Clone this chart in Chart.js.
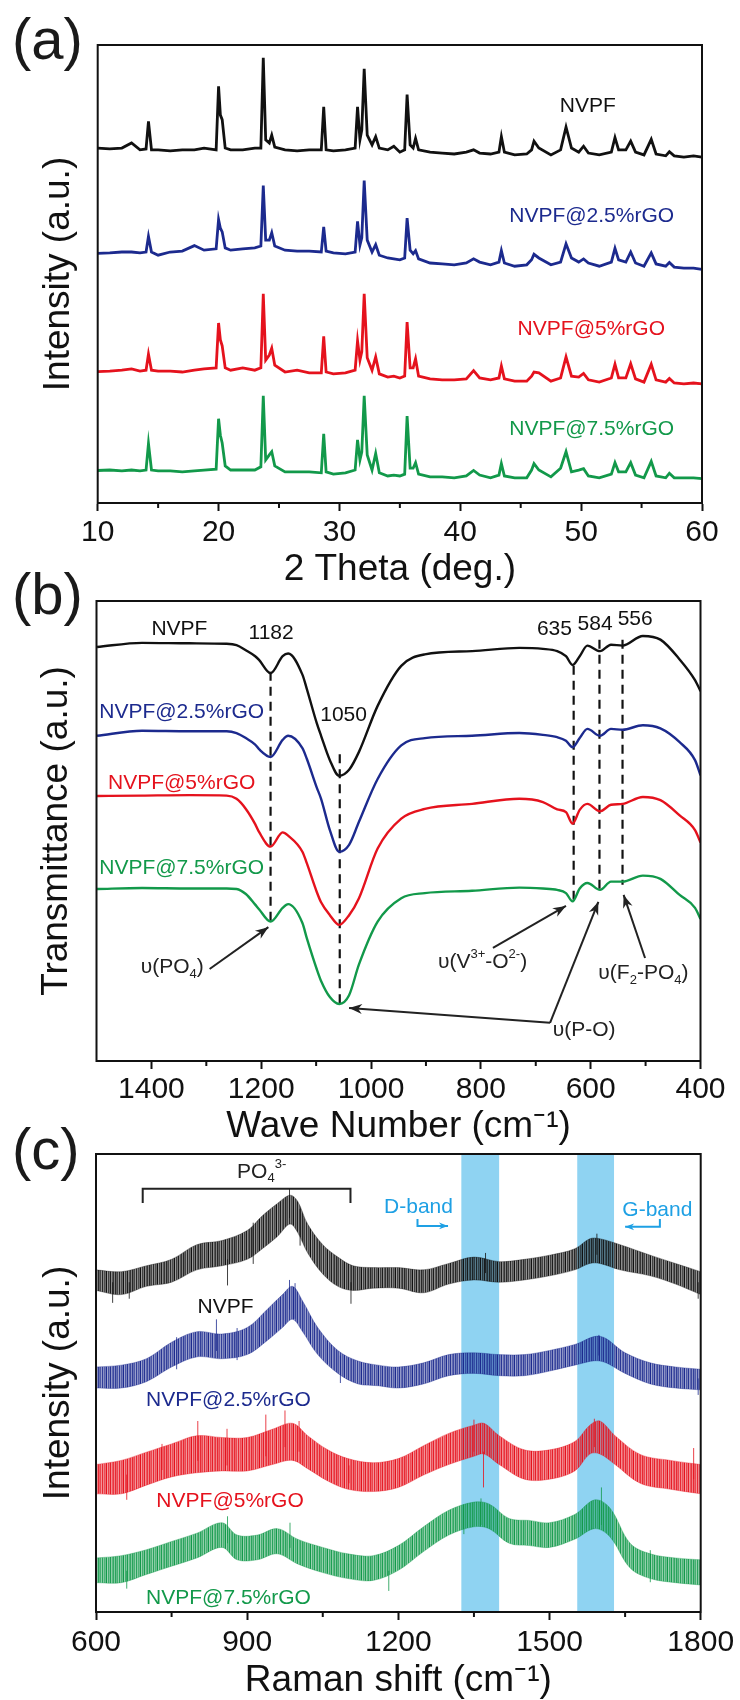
<!DOCTYPE html>
<html><head><meta charset="utf-8">
<script src="https://cdn.jsdelivr.net/npm/chart.js@4.4.1/dist/chart.umd.min.js"></script>
<style>
html,body{margin:0;padding:0;background:#fff;width:740px;height:1700px;overflow:hidden}
canvas{position:absolute;left:0}
.lab{position:absolute;left:12px;font:58px 'Liberation Sans',Arial,sans-serif;line-height:58px;color:#1a1a1a}
</style></head><body>
<div class="lab" style="top:10px">(a)</div>
<div class="lab" style="top:565px">(b)</div>
<div class="lab" style="top:1120px">(c)</div>
<canvas id="ca" width="740" height="600" style="top:0"></canvas>
<canvas id="cb" width="740" height="570" style="top:580px"></canvas>
<canvas id="cc" width="740" height="570" style="top:1130px"></canvas>
<script>
// ---------- (a) XRD ----------
const xrdTheta = [10, 11, 12, 12.8, 13.5, 14.0, 14.2, 14.45, 15, 16, 17, 18.0, 18.8, 19.8, 20.0, 20.15, 20.3, 20.55, 21, 22, 23, 23.5, 23.7, 23.9, 24.2, 24.4, 24.65, 25.5, 26.5, 27.5, 28.5, 28.7, 28.9, 29.5, 30.5, 31.3, 31.5, 31.7, 31.85, 32.05, 32.3, 32.7, 33.0, 33.3, 34.0, 34.5, 35.0, 35.4, 35.6, 35.85, 36.1, 36.3, 36.55, 37.5, 38.5, 39.5, 40.5, 41.1, 41.6, 42.5, 43.2, 43.4, 43.65, 44.5, 45.5, 45.9, 46.1, 46.5, 47.5, 48.3, 48.75, 49.2, 49.8, 50.2, 50.6, 51.5, 52.5, 52.8, 53.1, 53.7, 54.1, 54.5, 55.2, 55.8, 56.2, 57.0, 57.3, 57.7, 58.5, 59.3, 60];
const xrdNVPF = [77.5, 77.3, 77.5, 78.6, 77.1, 77.3, 83.3, 77.1, 77.1, 76.9,
  77.1, 77.1, 77.5, 77.1, 91.0, 84.7, 83.7, 77.5, 77.1, 77.1,
  77.5, 77.5, 97.2, 79.3, 78.6, 80.3, 77.7, 77.1, 76.9, 77.1,
  77.1, 86.5, 77.1, 76.9, 77.1, 77.5, 86.5, 79.3, 81.4, 94.8,
  80.3, 78.2, 80.0, 77.5, 77.1, 77.9, 76.6, 77.1, 89.2, 78.2,
  77.5, 79.6, 77.1, 76.6, 76.4, 76.2, 76.6, 77.1, 76.4, 76.2,
  76.6, 80.0, 76.6, 76.0, 76.2, 77.1, 79.0, 77.5, 76.0, 77.1,
  82.1, 77.5, 76.6, 77.9, 76.4, 76.0, 76.6, 79.8, 77.1, 77.1,
  79.0, 76.6, 76.0, 79.4, 76.2, 75.8, 76.7, 75.8, 75.5, 75.8, 75.5];
const xrdRGO25 = [54.5, 54.6, 54.8, 54.8, 54.6, 54.8, 58.2, 54.8, 54.1, 54.8,
  55.0, 56.2, 55.2, 55.5, 61.9, 60.0, 59.2, 55.7, 55.2, 55.5,
  55.7, 56.1, 69.3, 57.4, 57.4, 59.0, 56.1, 55.2, 55.0, 55.0,
  54.8, 60.3, 55.0, 54.6, 54.4, 54.8, 61.5, 56.3, 57.9, 70.4,
  57.4, 54.8, 56.4, 54.1, 53.5, 53.3, 53.1, 53.5, 62.2, 55.2,
  54.4, 55.1, 53.3, 52.4, 52.2, 52.0, 52.4, 53.3, 52.6, 52.0,
  52.6, 55.1, 52.4, 51.7, 52.0, 53.1, 54.3, 53.5, 52.0, 52.6,
  56.6, 53.5, 52.6, 53.3, 52.4, 51.7, 52.6, 55.6, 53.1, 52.6,
  54.8, 52.4, 51.7, 54.6, 52.2, 51.7, 52.5, 51.5, 51.3, 51.3, 51.0];
const xrdRGO5 = [28.7, 28.8, 29.0, 29.3, 28.8, 29.0, 32.5, 29.0, 28.8, 28.8,
  28.6, 29.0, 29.3, 29.5, 39.3, 35.6, 34.3, 29.5, 29.0, 29.5,
  29.0, 29.5, 45.7, 31.2, 32.3, 33.8, 30.1, 28.6, 29.0, 28.4,
  28.4, 36.4, 28.6, 28.2, 28.4, 29.0, 35.4, 31.2, 33.0, 45.7,
  31.7, 29.0, 31.9, 28.2, 27.5, 27.7, 27.3, 27.7, 39.5, 29.5,
  29.5, 31.5, 27.7, 27.1, 26.9, 26.9, 27.1, 28.9, 27.3, 26.9,
  27.3, 29.9, 27.1, 26.6, 26.6, 27.7, 28.6, 28.4, 26.6, 27.3,
  31.9, 27.7, 27.5, 28.3, 26.9, 26.4, 27.3, 30.3, 27.3, 27.3,
  30.4, 27.1, 26.4, 30.3, 26.9, 26.4, 27.2, 26.2, 26.0, 26.2, 26.0];
const xrdRGO75 = [7.1, 7.2, 7.0, 7.2, 7.0, 7.2, 13.0, 7.2, 7.0, 7.0,
  6.8, 7.0, 7.2, 7.4, 18.4, 14.8, 13.1, 8.1, 7.2, 7.2,
  7.2, 7.9, 23.4, 9.4, 10.5, 11.2, 8.1, 6.8, 6.8, 6.8,
  6.6, 15.1, 6.8, 6.3, 6.6, 7.2, 13.8, 9.4, 11.1, 23.4,
  10.5, 7.2, 10.8, 6.6, 5.9, 6.1, 5.9, 6.3, 19.0, 7.6,
  7.6, 8.8, 6.3, 5.7, 5.7, 5.5, 5.9, 7.1, 6.1, 5.5,
  6.1, 8.6, 5.9, 5.5, 5.5, 7.2, 8.6, 7.2, 5.7, 7.6,
  11.2, 6.8, 7.2, 7.5, 5.9, 5.5, 6.3, 8.8, 6.8, 6.8,
  8.8, 6.1, 5.5, 9.1, 5.9, 5.5, 6.5, 5.5, 5.5, 5.5, 5.3];
const xrdTicks = [10, 20, 30, 40, 50, 60];
const xrdMinor = [15, 25, 35, 45, 55];
const seriesNames = ['NVPF', 'NVPF@2.5%rGO', 'NVPF@5%rGO', 'NVPF@7.5%rGO'];
const xrdLabelPos = [[50.55, 86.6], [50.87, 62.7], [50.84, 38.0], [50.87, 16.2]];

// ---------- (b) FTIR ----------
const ftirWn = [1499, 1417, 1331, 1263, 1245, 1228, 1211, 1204, 1183, 1161, 1151, 1125, 1117, 1099, 1091, 1075, 1058, 1040, 1022, 988, 945, 902, 816, 730, 687, 661, 645, 633, 620, 606, 583, 563, 542, 505, 473, 438, 410, 400];
const ftirNVPF = [90.0, 90.9, 90.8, 90.7, 90.4, 89.3, 88.0, 87.2, 84.3, 88.0, 88.6, 84.0, 80.9, 73.5, 70.7, 65.4, 62.0, 63.3, 67.2, 77.2, 85.9, 88.4, 89.1, 89.8, 89.6, 89.1, 88.0, 86.1, 88.0, 90.3, 89.1, 90.5, 90.3, 92.4, 91.6, 87.3, 82.8, 80.4];
const ftirRGO25 = [70.7, 71.8, 71.7, 71.7, 71.3, 70.2, 68.8, 67.8, 66.1, 69.8, 70.7, 68.0, 65.7, 59.5, 57.0, 50.2, 45.5, 47.0, 52.0, 61.3, 68.6, 70.2, 70.7, 71.3, 70.9, 70.4, 69.6, 68.2, 70.2, 72.2, 70.7, 72.2, 72.0, 73.0, 72.3, 69.3, 65.4, 62.1];
const ftirRGO5 = [57.6, 57.7, 57.8, 57.7, 57.0, 54.8, 51.5, 49.8, 46.6, 49.7, 49.0, 45.5, 43.0, 36.8, 34.5, 31.7, 29.6, 31.7, 35.4, 46.2, 52.7, 54.8, 55.9, 57.0, 56.3, 54.7, 54.1, 51.6, 54.6, 55.9, 54.3, 55.7, 55.9, 57.4, 56.7, 53.4, 50.2, 47.5];
const ftirRGO75 = [37.4, 37.6, 37.5, 37.5, 37.4, 36.3, 34.0, 33.0, 30.3, 33.3, 34.1, 30.0, 26.7, 20.0, 17.4, 13.9, 12.4, 14.3, 21.0, 30.3, 35.4, 36.5, 37.0, 37.7, 37.5, 37.2, 36.5, 34.7, 37.5, 38.7, 37.2, 39.0, 39.0, 40.3, 39.6, 36.1, 33.3, 30.9];
const ftirTicks = [1400, 1200, 1000, 800, 600, 400];
const ftirMinor = [1300, 1100, 900, 700, 500];
const ftirDashWn = [1183, 1057, 631, 584, 542];
const ftirDashTop = [84.6, 66.7, 85.9, 91.6, 91.6];
const ftirDashBottom = [30.4, 12.4, 34.3, 36.8, 38.3];
const ftirPeakText = ['NVPF', '1182', '1050', '635', '584', '556'];
const ftirPeakPos = [[1349, 93.8], [1182, 93.0], [1050, 75.2], [666, 93.9], [592, 94.9], [519, 96.1]];
const ftirSeriesLabelPos = [[1495, 75.8], [1479, 60.4], [1495, 42.0]];
const ftirArrows = [[1294, 20.0, 1187, 29.1], [778, 24.6, 645, 33.7], [501, 22.4, 540, 36.1], [674, 8.3, 1040, 11.5], [674, 8.3, 586, 34.6]];

// ---------- (c) Raman: [shift, lower edge, upper edge] of the noisy trace ----------
const ramanNVPF = [[600,70.2,74.7],[650,69.3,74.3],[700,71.1,75.6],[750,72.0,77.0],[800,74.7,80.2],[850,75.6,81.1],[900,77.0,83.3],[930,79.3,86.5],[960,82.0,89.2],[985,84.7,91.0],[1000,82.9,89.7],[1020,78.4,84.7],[1050,73.8,80.2],[1080,71.1,77.5],[1110,70.2,75.6],[1150,70.7,75.2],[1200,70.7,75.2],[1250,69.7,74.7],[1300,71.6,76.1],[1350,72.5,77.5],[1400,72.0,76.5],[1450,72.5,77.0],[1500,73.4,77.9],[1550,74.7,79.3],[1580,76.1,81.5],[1600,76.1,81.5],[1640,74.7,80.2],[1700,73.4,77.9],[1750,71.6,76.1],[1800,69.3,74.3]];
const ramanRGO25 = [[600,48.9,53.5],[650,48.9,53.9],[700,50.3,55.3],[750,53.5,58.9],[800,55.7,61.2],[850,55.3,60.7],[900,56.2,62.1],[940,59.3,66.1],[970,62.1,69.3],[990,63.9,71.1],[1010,61.2,67.9],[1040,56.2,62.1],[1080,52.1,57.1],[1120,49.8,54.8],[1160,49.4,53.9],[1200,48.9,53.5],[1250,49.8,54.4],[1300,51.6,56.2],[1350,52.1,56.6],[1400,51.6,56.2],[1450,51.6,56.2],[1500,52.6,57.1],[1550,53.9,58.4],[1600,54.8,60.2],[1650,52.1,56.6],[1700,49.8,54.4],[1750,48.9,53.5],[1800,48.5,53.0]];
const ramanRGO5 = [[600,25.8,32.2],[650,25.8,33.1],[700,27.7,34.9],[750,29.5,36.7],[800,30.4,38.5],[850,30.8,38.1],[900,30.8,38.1],[950,32.2,39.9],[990,33.1,41.2],[1020,31.3,38.5],[1060,28.6,35.4],[1100,26.8,33.5],[1150,26.3,32.6],[1200,27.2,33.5],[1250,29.9,36.3],[1300,32.2,39.0],[1350,34.0,40.8],[1370,34.5,41.2],[1400,32.2,38.5],[1450,29.0,35.4],[1500,29.0,35.4],[1550,30.8,37.2],[1580,34.5,40.8],[1600,34.5,41.7],[1630,32.2,38.5],[1680,28.1,34.4],[1740,26.8,33.1],[1800,25.8,32.2]];
const ramanRGO75 = [[600,6.4,11.8],[650,6.4,12.3],[700,8.2,13.6],[750,10.0,15.4],[800,11.8,17.2],[850,14.1,19.5],[880,11.4,16.8],[920,11.4,16.8],[960,12.7,18.2],[1000,10.5,15.9],[1050,8.6,14.1],[1100,7.3,12.7],[1150,6.9,12.3],[1200,9.1,14.5],[1250,13.2,18.6],[1300,16.8,22.2],[1350,18.6,24.0],[1380,18.2,23.6],[1420,15.0,20.4],[1460,14.5,20.0],[1500,14.1,19.5],[1550,15.9,21.3],[1590,18.2,24.5],[1620,16.4,22.7],[1660,9.6,15.0],[1700,7.3,12.7],[1750,6.4,11.8],[1800,5.9,11.4]];
// noise spikes: [shift, low, high]
const spikesNVPF = [[633,67.5,72],[666,68.4,72],[861,71.3,77],[912,76,85],[984,86,92.5],[1005,80,88],[1106,67.3,72],[1373,74,78.4],[1594,78,82.6],[1795,68.4,72]];
const spikesRGO25 = [[760,53,60],[839,57,63.9],[880,55,62],[984,66,72.5],[995,64,71.8],[1085,50,56],[1598,56,60.5],[1795,47.4,51]];
const spikesRGO5 = [[661,24.5,30],[731,31,36.7],[802,33,41.7],[860,32,40],[937,34,43.1],[975,36,44.0],[1003,35,41.7],[1102,28.1,32],[1350,35,42],[1369,27.2,35],[1589,36,42.2],[1786,29,35.8]];
const spikesRGO75 = [[661,5.1,9],[861,15,20.9],[985,14,19.5],[1181,4.6,9],[1330,17,23.5],[1364,19,24.8],[1603,19,27.2],[1700,6.5,13.5]];
const ramanTicks = [600, 900, 1200, 1500, 1800];
const ramanMinor = [750, 1050, 1350, 1650];
const ramanBands = [[1325, 1400], [1555, 1628]];
const ramanBracket = [692.7, 1105, 92.4, 89.3];
const ramanLabelPos = [[857, 66.6], [863, 46.3], [866, 24.2], [863, 3.1]];

// ---------- styling ----------
const FONT = "'Liberation Sans', Arial, Helvetica, sans-serif";
const COLORS = ['#111111', '#1c2a8e', '#e5121d', '#12994a'];
const RGB = ['17,17,17', '28,42,142', '229,18,29', '18,153,74'];
const SKY = '#8fd3f2', SKYTXT = '#1ea0e4';

function drawRich(ctx, segs, x, y, size, color, align) {
  let w = 0;
  segs.forEach(s => { ctx.font = (s[1] ? size * 0.62 : size) + 'px ' + FONT; w += ctx.measureText(s[0]).width; });
  let cx = align === 'left' ? x : x - w / 2;
  ctx.fillStyle = color; ctx.textBaseline = 'middle'; ctx.textAlign = 'left';
  segs.forEach(s => {
    const sz = s[1] ? size * 0.62 : size;
    ctx.font = sz + 'px ' + FONT;
    const dy = s[1] === 1 ? size * 0.33 : (s[1] === 2 ? -size * 0.36 : 0);
    ctx.fillText(s[0], cx, y + dy);
    cx += ctx.measureText(s[0]).width;
  });
}
function arrowHead(ctx, x1, y1, x2, y2, color, head) {
  const a = Math.atan2(y2 - y1, x2 - x1);
  ctx.fillStyle = color;
  ctx.beginPath();
  ctx.moveTo(x2, y2);
  ctx.lineTo(x2 - head * Math.cos(a) + head * 0.38 * Math.sin(a), y2 - head * Math.sin(a) - head * 0.38 * Math.cos(a));
  ctx.lineTo(x2 - head * 0.7 * Math.cos(a), y2 - head * 0.7 * Math.sin(a));
  ctx.lineTo(x2 - head * Math.cos(a) - head * 0.38 * Math.sin(a), y2 - head * Math.sin(a) + head * 0.38 * Math.cos(a));
  ctx.closePath(); ctx.fill();
}
function poly(ctx, pts, color, width, head) {
  ctx.strokeStyle = color; ctx.lineWidth = width; ctx.setLineDash([]);
  ctx.beginPath();
  pts.forEach((p, i) => i ? ctx.lineTo(p[0], p[1]) : ctx.moveTo(p[0], p[1]));
  ctx.stroke();
  if (head) { const n = pts.length; arrowHead(ctx, pts[n - 2][0], pts[n - 2][1], pts[n - 1][0], pts[n - 1][1], color, head); }
}
// fine irregular hairline texture used as fill of the noisy Raman band
function stripes(rgb) {
  const al = [0.9, 0.5, 0.75, 0.62, 1, 0.42, 0.8, 0.58, 0.95, 0.48, 0.7, 0.85, 0.52, 0.9, 0.66, 0.78, 0.45];
  const c = document.createElement('canvas'); c.width = al.length; c.height = 3;
  const g = c.getContext('2d');
  al.forEach((a, i) => { g.fillStyle = 'rgba(' + rgb + ',' + a + ')'; g.fillRect(i, 0, 1, 3); });
  return g.createPattern(c, 'repeat');
}

function frameAndMinor(minor, len) {
  return {
    id: 'frame',
    afterDatasetsDraw(chart) {
      const ctx = chart.ctx, a = chart.chartArea, xs = chart.scales.x;
      ctx.save();
      ctx.strokeStyle = '#111'; ctx.lineWidth = 2; ctx.setLineDash([]);
      ctx.strokeRect(a.left, a.top, a.right - a.left, a.bottom - a.top);
      ctx.beginPath();
      minor.forEach(v => { const p = xs.getPixelForValue(v); ctx.moveTo(p, a.bottom); ctx.lineTo(p, a.bottom + len); });
      ctx.stroke();
      ctx.restore();
    }
  };
}
function xAxis(min, max, ticks, title, tpad, height, reverse) {
  return {
    type: 'linear', min, max, reverse: !!reverse,
    afterBuildTicks(s) { s.ticks = ticks.map(v => ({ value: v })); },
    afterFit(s) { s.height = height; },
    ticks: { font: { family: FONT, size: 30 }, color: '#111', padding: tpad, maxRotation: 0, autoSkip: false, callback: v => String(v) },
    grid: { drawOnChartArea: false, drawTicks: true, tickLength: 8, tickWidth: 2, tickColor: '#111' },
    border: { display: true, width: 2, color: '#111' },
    title: { display: true, text: title.t, font: { family: FONT, size: 37, lineHeight: 1 }, color: '#111', padding: { top: 0, bottom: title.pb } }
  };
}
function yAxis(title, pt, width) {
  return {
    min: 0, max: 100,
    afterFit(s) { s.width = width; },
    ticks: { display: false }, grid: { display: false }, border: { display: false },
    title: { display: true, text: title, font: { family: FONT, size: 37, lineHeight: 1 }, color: '#111', padding: { top: pt, bottom: 0 } }
  };
}
const baseOpts = {
  responsive: false, animation: false, events: [],
  plugins: { legend: { display: false }, tooltip: { enabled: false } },
  elements: { point: { radius: 0 } }
};

// ---------- chart (a) ----------
const xrdSeries = [xrdNVPF, xrdRGO25, xrdRGO5, xrdRGO75];
new Chart(document.getElementById('ca'), {
  type: 'line',
  data: {
    datasets: xrdSeries.map((s, k) => ({
      data: xrdTheta.map((t, i) => ({ x: t, y: s[i] })),
      borderColor: COLORS[k], borderWidth: 2.8, tension: 0, pointRadius: 0, fill: false
    }))
  },
  options: Object.assign({}, baseOpts, {
    layout: { padding: { left: 0, right: 38, top: 45, bottom: 0 } },
    scales: {
      x: xAxis(10, 60, xrdTicks, { t: '2 Theta (deg.)', pb: 11.5 }, 4, 97),
      y: yAxis('Intensity (a.u.)', 40.5, 97.7)
    }
  }),
  plugins: [frameAndMinor(xrdMinor, 5), {
    id: 'annA',
    afterDatasetsDraw(chart) {
      const ctx = chart.ctx, xs = chart.scales.x, ys = chart.scales.y;
      ctx.save();
      seriesNames.forEach((n, k) => drawRich(ctx, [[n, 0]], xs.getPixelForValue(xrdLabelPos[k][0]), ys.getPixelForValue(xrdLabelPos[k][1]), 21, COLORS[k], 'center'));
      ctx.restore();
    }
  }]
});

// ---------- chart (b) ----------
const ftirSeries = [ftirNVPF, ftirRGO25, ftirRGO5, ftirRGO75];
const dashData = [];
ftirDashWn.forEach((w, i) => { dashData.push({ x: w, y: ftirDashTop[i] }, { x: w, y: ftirDashBottom[i] }, { x: w, y: null }); });
new Chart(document.getElementById('cb'), {
  type: 'line',
  data: {
    datasets: ftirSeries.map((s, k) => ({
      data: ftirWn.map((w, i) => ({ x: w, y: s[i] })),
      borderColor: COLORS[k], borderWidth: 2.4, cubicInterpolationMode: 'monotone', pointRadius: 0, fill: false
    })).concat([{
      data: dashData, borderColor: '#111', borderWidth: 2.2, borderDash: [9, 6], tension: 0, spanGaps: false, pointRadius: 0, fill: false
    }])
  },
  options: Object.assign({}, baseOpts, {
    layout: { padding: { left: 0, right: 39.5, top: 21, bottom: 0 } },
    scales: {
      x: xAxis(400, 1500, ftirTicks, { t: 'Wave Number (cm\u207B\u00B9)', pb: 4.5 }, 3, 89, true),
      y: yAxis('Transmittance (a.u.)', 38.1, 96.5)
    }
  }),
  plugins: [frameAndMinor(ftirMinor, 5), {
    id: 'annB',
    afterDatasetsDraw(chart) {
      const ctx = chart.ctx, xs = chart.scales.x, ys = chart.scales.y;
      const X = v => xs.getPixelForValue(v), Y = v => ys.getPixelForValue(v);
      ctx.save();
      ftirPeakText.forEach((t, i) => drawRich(ctx, [[t, 0]], X(ftirPeakPos[i][0]), Y(ftirPeakPos[i][1]), 21, COLORS[0], 'center'));
      ftirSeriesLabelPos.forEach((p, i) => drawRich(ctx, [[seriesNames[i + 1], 0]], X(p[0]), Y(p[1]), 21, COLORS[i + 1], 'left'));
      drawRich(ctx, [['\u03C5(PO', 0], ['4', 1], [')', 0]], X(1362), Y(20.4), 21, '#222', 'center');
      drawRich(ctx, [['\u03C5(V', 0], ['3+', 2], ['-O', 0], ['2-', 2], [')', 0]], X(797), Y(21.5), 21, '#222', 'center');
      drawRich(ctx, [['\u03C5(F', 0], ['2', 1], ['-PO', 0], ['4', 1], [')', 0]], X(586), Y(19.1), 21, '#222', 'left');
      drawRich(ctx, [['\u03C5(P-O)', 0]], X(612), Y(6.7), 21, '#222', 'center');
      ftirArrows.forEach(a => poly(ctx, [[X(a[0]), Y(a[1])], [X(a[2]), Y(a[3])]], '#222', 2, 13));
      ctx.restore();
    }
  }]
});

// ---------- chart (c) ----------
const ramanSeries = [ramanNVPF, ramanRGO25, ramanRGO5, ramanRGO75];
const ramanSpikes = [spikesNVPF, spikesRGO25, spikesRGO5, spikesRGO75];
const ramanDatasets = [];
ramanSeries.forEach((s, k) => {
  ramanDatasets.push({
    data: s.map(p => ({ x: p[0], y: p[1] })), borderColor: 'rgba(' + RGB[k] + ',0.35)', borderWidth: 1, tension: 0.35, pointRadius: 0, fill: false
  });
  ramanDatasets.push({
    data: s.map(p => ({ x: p[0], y: p[2] })), borderColor: 'rgba(' + RGB[k] + ',0.35)', borderWidth: 1, tension: 0.35, pointRadius: 0,
    fill: '-1', backgroundColor: stripes(RGB[k])
  });
  const sp = [];
  ramanSpikes[k].forEach(q => sp.push({ x: q[0], y: q[1] }, { x: q[0], y: q[2] }, { x: q[0], y: null }));
  ramanDatasets.push({ data: sp, borderColor: 'rgba(' + RGB[k] + ',0.8)', borderWidth: 1, tension: 0, spanGaps: false, pointRadius: 0, fill: false });
});
new Chart(document.getElementById('cc'), {
  type: 'line',
  data: { datasets: ramanDatasets },
  options: Object.assign({}, baseOpts, {
    layout: { padding: { left: 0, right: 39.3, top: 24, bottom: 0 } },
    scales: {
      x: xAxis(600, 1800, ramanTicks, { t: 'Raman shift (cm\u207B\u00B9)', pb: 1 }, 5, 88),
      y: yAxis('Intensity (a.u.)', 40.5, 96)
    }
  }),
  plugins: [{
    id: 'bands',
    beforeDatasetsDraw(chart) {
      const ctx = chart.ctx, a = chart.chartArea, xs = chart.scales.x;
      ctx.save(); ctx.fillStyle = SKY;
      ramanBands.forEach(b => { const x1 = xs.getPixelForValue(b[0]), x2 = xs.getPixelForValue(b[1]); ctx.fillRect(x1, a.top, x2 - x1, a.bottom - a.top); });
      ctx.restore();
    }
  }, frameAndMinor(ramanMinor, 5), {
    id: 'annC',
    afterDatasetsDraw(chart) {
      const ctx = chart.ctx, xs = chart.scales.x, ys = chart.scales.y;
      const X = v => xs.getPixelForValue(v), Y = v => ys.getPixelForValue(v);
      ctx.save();
      const b = ramanBracket;
      poly(ctx, [[X(b[0]), Y(b[3])], [X(b[0]), Y(b[2])], [X(b[1]), Y(b[2])], [X(b[1]), Y(b[3])]], '#222', 2, 0);
      drawRich(ctx, [['PO', 0], ['4', 1], ['3-', 2]], X(880), Y(96.1), 21, '#222', 'left');
      drawRich(ctx, [['D-band', 0]], X(1240), Y(88.4), 21, SKYTXT, 'center');
      drawRich(ctx, [['G-band', 0]], X(1714), Y(87.8), 21, SKYTXT, 'center');
      poly(ctx, [[X(1238), Y(85.8)], [X(1238), Y(84.3)], [X(1298.6), Y(84.3)]], SKYTXT, 2, 9);
      poly(ctx, [[X(1719), Y(85.8)], [X(1719), Y(84.1)], [X(1650), Y(84.1)]], SKYTXT, 2, 9);
      seriesNames.forEach((n, k) => drawRich(ctx, [[n, 0]], X(ramanLabelPos[k][0]), Y(ramanLabelPos[k][1]), 21, COLORS[k], 'center'));
      ctx.restore();
    }
  }]
});
</script>
</body></html>
